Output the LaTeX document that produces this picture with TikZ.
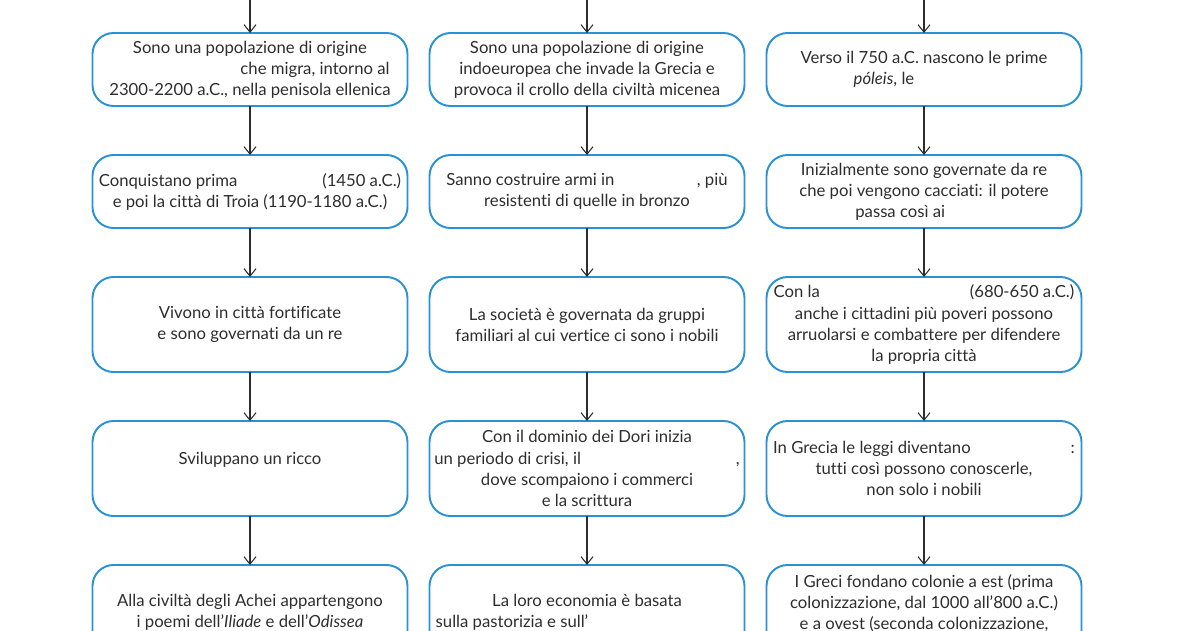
\documentclass[tikz,border=0pt]{standalone}
\usepackage{fontspec}
\setmainfont{Lato}[Ligatures=NoCommon]
\usetikzlibrary{arrows.meta,positioning}
\definecolor{azzurro}{RGB}{41,146,212}
\definecolor{grigioscuro}{RGB}{45,45,45}

\tikzset{
	tappa/.style={draw=azzurro, line width=1.1pt, rounded corners=0.42cm, outer sep=0pt,
		minimum width=6.3cm, align=center, inner sep=2pt, text=grigioscuro,
		font=\fontsize{9.5}{12}\selectfont},
	bassa/.style={minimum height=1.46cm},
	alta/.style={minimum height=1.9cm},
	freccia/.style={-{Straight Barb[length=0.15cm,width=0.24cm]}, draw=grigioscuro, line width=0.6pt}
}

\begin{document}
\begin{tikzpicture}
	\clip (0,0) rectangle (24,12.6);
	\def\xa{5.0}
	\def\xb{11.74}
	\def\xc{18.48}
	% Achei
	\node[tappa, bassa, anchor=north] (a1) at (\xa,11.94) {Sono una popolazione di origine\\ \hspace*{2.6cm}che migra, intorno al\\ 2300-2200 a.C., nella penisola ellenica};
	\node[tappa, bassa, below=0.98cm of a1] (a2) {Conquistano prima\hspace*{1.7cm}(1450 a.C.)\\ e poi la città di Troia (1190-1180 a.C.)};
	\node[tappa, alta, below=0.98cm of a2] (a3) {Vivono in città fortificate\\ e sono governati da un re};
	\node[tappa, alta, below=0.98cm of a3] (a4) {Sviluppano un ricco\\ \mbox{}};
	\node[tappa, alta, below=0.98cm of a4] (a5) {Alla civiltà degli Achei appartengono\\ i poemi dell’\textit{Iliade} e dell’\textit{Odissea}};
	% Dori
	\node[tappa, bassa, anchor=north] (b1) at (\xb,11.94) {Sono una popolazione di origine\\ indoeuropea che invade la Grecia e\\ provoca il crollo della civiltà micenea};
	\node[tappa, bassa, below=0.98cm of b1] (b2) {Sanno costruire armi in\hspace*{1.65cm}, più\\ resistenti di quelle in bronzo};
	\node[tappa, alta, below=0.98cm of b2] (b3) {La società è governata da gruppi\\ familiari al cui vertice ci sono i nobili};
	\node[tappa, alta, below=0.98cm of b3] (b4) {Con il dominio dei Dori inizia\\ un periodo di crisi, il\hspace*{3.1cm},\\ dove scompaiono i commerci\\ e la scrittura};
	\node[tappa, alta, below=0.98cm of b4] (b5) {La loro economia è basata\\ sulla pastorizia e sull’\hspace*{3.0cm}};
	% poleis
	\node[tappa, bassa, anchor=north] (c1) at (\xc,11.94) {Verso il 750 a.C. nascono le prime\\ \textit{póleis}, le\hspace*{1.6cm}};
	\node[tappa, bassa, below=0.98cm of c1] (c2) {Inizialmente sono governate da re\\ che poi vengono cacciati: il potere\\ passa così ai\hspace*{0.95cm}};
	\node[tappa, alta, below=0.98cm of c2] (c3) {Con la\hspace*{3cm}(680-650 a.C.)\\ anche i cittadini più poveri possono\\ arruolarsi e combattere per difendere\\ la propria città};
	\node[tappa, alta, below=0.98cm of c3] (c4) {In Grecia le leggi diventano\hspace*{2.0cm}:\\ tutti così possono conoscerle,\\ non solo i nobili};
	\node[tappa, alta, below=0.98cm of c4] (c5) {I Greci fondano colonie a est (prima\\ colonizzazione, dal 1000 all’800 a.C.)\\ e a ovest (seconda colonizzazione,\\ \mbox{}};
	% frecce
	\coordinate (ia) at (\xa,12.8);
	\coordinate (ib) at (\xb,12.8);
	\coordinate (ic) at (\xc,12.8);
	\foreach \c in {a,b,c}{
		\draw[freccia] (i\c) -- (\c1);
		\foreach \i/\j in {1/2,2/3,3/4,4/5}
			\draw[freccia] (\c\i) -- (\c\j);
	}
\end{tikzpicture}
\end{document}
